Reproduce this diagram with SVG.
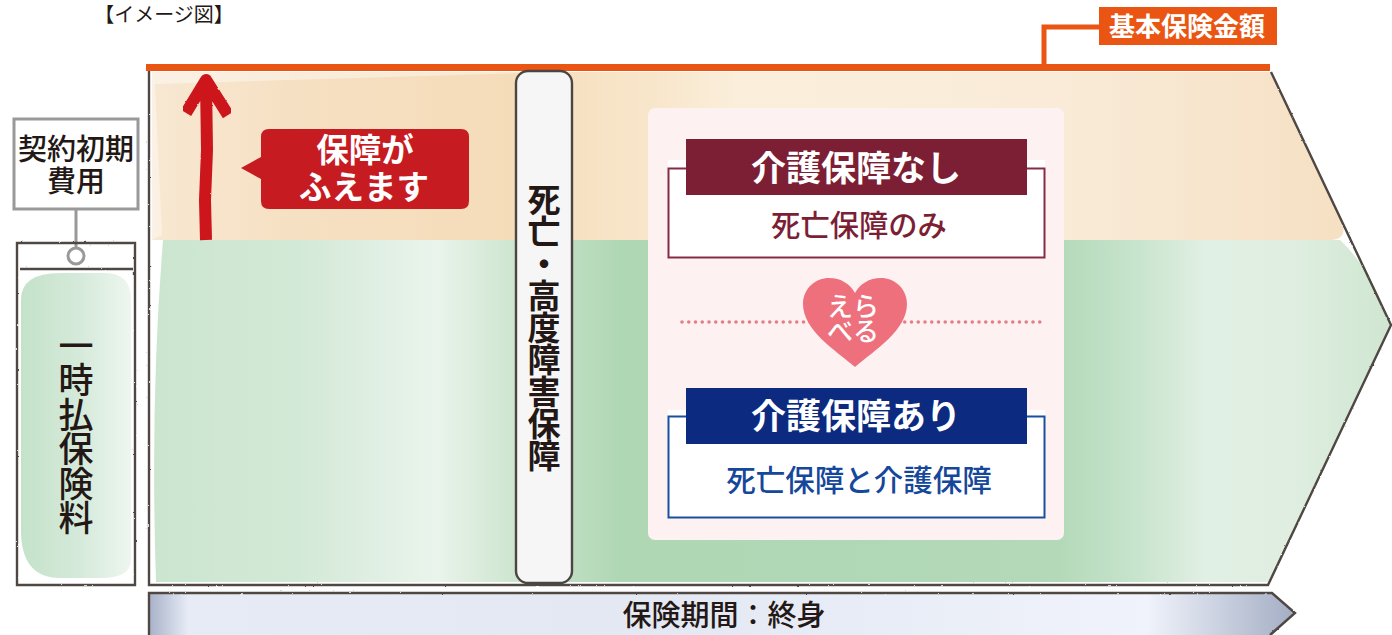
<svg xmlns="http://www.w3.org/2000/svg" width="1392" height="635" viewBox="0 0 1392 635">
<style>
text{font-family:"Noto Sans CJK JP","Noto Sans",sans-serif;text-anchor:middle}
.w{fill:#fff;font-weight:700}
.ink{fill:none;stroke:#4f4743;stroke-width:2.4;filter:url(#rough)}
.v{writing-mode:vertical-rl;text-orientation:upright;fill:#231815}
</style>
<defs>
<filter id="rough" x="-5%" y="-5%" width="110%" height="110%" filterUnits="objectBoundingBox">
<feTurbulence type="fractalNoise" baseFrequency=".25" numOctaves="2" seed="3"/>
<feDisplacementMap in="SourceGraphic" scale="1.8" xChannelSelector="R" yChannelSelector="G"/>
</filter>
<linearGradient id="peach" gradientUnits="userSpaceOnUse" x1="150" y1="0" x2="1345" y2="0">
<stop offset="0" stop-color="#f8e8d2"/><stop offset=".12" stop-color="#f6e0c3"/><stop offset=".3" stop-color="#f5dcb9"/><stop offset=".42" stop-color="#f8e6cb"/><stop offset=".5" stop-color="#fbefdc"/><stop offset=".76" stop-color="#f9ebd7"/><stop offset=".85" stop-color="#f8e7d1"/><stop offset="1" stop-color="#f5e0c3"/>
</linearGradient>
<linearGradient id="green" gradientUnits="userSpaceOnUse" x1="150" y1="0" x2="1392" y2="0">
<stop offset="0" stop-color="#cbe5cf"/><stop offset=".12" stop-color="#d3e9d7"/><stop offset=".23" stop-color="#eaf4ec"/><stop offset=".29" stop-color="#cfe6d1"/><stop offset=".38" stop-color="#afd7b4"/><stop offset=".73" stop-color="#b3d9b8"/><stop offset=".79" stop-color="#c6e3cb"/><stop offset=".85" stop-color="#e1f0e4"/><stop offset=".92" stop-color="#dfeee0"/><stop offset="1" stop-color="#cfe6d2"/>
</linearGradient>
<linearGradient id="pay" x1="0" y1="0" x2="1" y2="0">
<stop offset="0" stop-color="#c4e2c9"/><stop offset=".55" stop-color="#d6eadb"/><stop offset="1" stop-color="#eef6ef"/>
</linearGradient>
<linearGradient id="term" gradientUnits="userSpaceOnUse" x1="148" y1="0" x2="1296" y2="0">
<stop offset="0" stop-color="#a6b0c6"/><stop offset=".035" stop-color="#e6ebf6"/><stop offset=".45" stop-color="#e3e8f3"/><stop offset=".87" stop-color="#f0f3fb"/><stop offset=".94" stop-color="#c6cddd"/><stop offset="1" stop-color="#a3adc3"/>
</linearGradient>
</defs>

<g id="base">
<path d="M152 72H1270L1343 225Q1346 240 1330 240H152Z" fill="url(#peach)"/>
<path d="M152 72H560L155 84L162 235L152 240Z" fill="#fff" opacity=".4"/>
<path d="M163 240H1340Q1372 270 1390 325L1268 582H156Q150 400 163 240Z" fill="url(#green)"/>
<path class="ink" d="M149 71V585H1268L1391 325L1271 72"/>
</g>

<g id="caption"><text x="164" y="22" font-size="20" fill="#231815">【イメージ図】</text></g>

<g id="connectors">
<path d="M1099 27H1044V66" fill="none" stroke="#ea5514" stroke-width="5"/>
<path d="M76 210V248" fill="none" stroke="#999" stroke-width="3"/>
</g>

<g id="sum-line"><rect x="146" y="64" width="1124" height="7" fill="#ea5514"/></g>

<g id="sum-label">
<rect x="1099" y="7" width="178" height="38" fill="#ea5514"/>
<text class="w" x="1187" y="36" font-size="26">基本保険金額</text>
</g>

<g id="initial-cost">
<rect x="14" y="119" width="124" height="90" fill="#fff" stroke="#999" stroke-width="3"/>
<text x="76" y="160" font-size="29" font-weight="500" fill="#231815">契約初期</text>
<text x="76" y="192" font-size="29" font-weight="500" fill="#231815">費用</text>
</g>

<g id="single-premium">
<path d="M21 300Q21 273 60 273H105Q131 273 131 300V560Q131 578 100 578H60Q21 578 21 530Z" fill="url(#pay)"/>
<path class="ink" d="M17 243H135V585H17ZM20 269H133"/>
<circle cx="76" cy="256" r="8" fill="#fff" stroke="#999" stroke-width="3"/>
<text class="v" x="76" y="328" font-size="35" font-weight="500" style="letter-spacing:-.5px;text-anchor:start">一時払保険料</text>
</g>

<g id="increase-arrow">
<path d="M206 240L205 200L207 150L206 82M186 113L206 80L228 115" fill="none" stroke="#cc141c" stroke-width="12" stroke-linejoin="round" style="filter:url(#rough)"/>
</g>

<g id="callout">
<path d="M269 129H461Q469 129 469 137V201Q469 209 461 209H269Q261 209 261 201V179L241 168L261 157V137Q261 129 269 129Z" fill="#c71b22"/>
<text class="w" x="365" y="162" font-size="32.5">保障が</text>
<text class="w" x="364" y="199" font-size="32.5">ふえます</text>
</g>

<g id="death-column">
<rect x="516" y="71" width="56" height="512" rx="12" fill="#f6f6f6" stroke="#4a4643" stroke-width="2.4"/>
<text class="v" x="544" y="183" font-size="33" font-weight="700" style="letter-spacing:-1px;text-anchor:start">死亡・高度障害保障</text>
</g>

<g id="choice-panel"><rect x="648" y="108" width="416" height="432" rx="7" fill="#fdf2f1"/></g>

<g id="no-care">
<rect x="668" y="160" width="377" height="8" fill="#fff"/>
<rect x="668.5" y="168.5" width="376" height="89" fill="#fff" stroke="#842c47" stroke-width="2"/>
<rect x="686" y="139" width="341" height="56" fill="#7c1f35"/>
<text class="w" x="856" y="181" font-size="35">介護保障なし</text>
<text x="859" y="236" font-size="29.3" font-weight="500" fill="#7c1f35">死亡保障のみ</text>
</g>

<g id="choose">
<path d="M682 322H1043" fill="none" stroke="#e37d88" stroke-width="3.6" stroke-linecap="round" stroke-dasharray="0 6.75"/>
<path d="M855 367C835 350 803 330 803 304C803 288 816 278 829 278C841 278 850 284 855 293C860 284 869 278 881 278C894 278 907 288 907 304C907 330 875 350 855 367Z" fill="#ee707d"/>
<text class="w" x="853" y="316" font-size="26" style="font-weight:500">えら</text>
<text class="w" x="853" y="341" font-size="26" style="font-weight:500">べる</text>
</g>

<g id="with-care">
<rect x="668" y="410" width="377" height="6" fill="#fff"/>
<rect x="668.5" y="416.5" width="376" height="101" fill="#fff" stroke="#1a4fa0" stroke-width="2"/>
<rect x="686" y="388" width="341" height="56" fill="#0c2a7f"/>
<text class="w" x="856" y="429" font-size="35">介護保障あり</text>
<text x="859" y="491" font-size="29.5" font-weight="500" fill="#15479a">死亡保障と介護保障</text>
</g>

<g id="term">
<path d="M149 593H1272L1295 613L1272 635H149Z" fill="url(#term)"/>
<path class="ink" d="M149 635V593H1272L1295 613L1270 635"/>
<text x="724" y="626" font-size="29" font-weight="500" fill="#231815">保険期間：終身</text>
</g>
</svg>
